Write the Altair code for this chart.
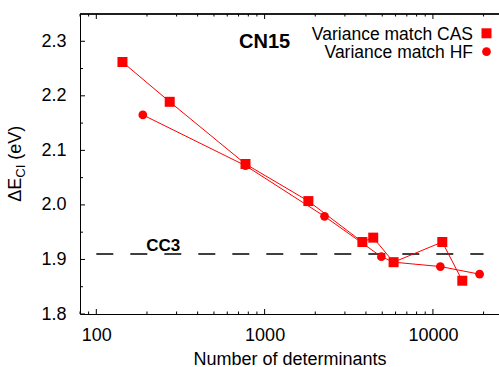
import altair as alt
import pandas as pd

# ---- data ----
CAS_N = [143, 273, 770, 1820, 3810, 4420, 5840, 11370, 14950]
CAS_E = [2.262, 2.189, 2.075, 2.007, 1.932, 1.940, 1.895, 1.932, 1.861]
HF_N = [189, 770, 2270, 4940, 5840, 11070, 18940]
HF_E = [2.165, 2.072, 1.979, 1.905, 1.895, 1.887, 1.873]
CC3_E = 1.91
CC3_FROM, CC3_TO = 100, 20000
X_LABELS = [100, 1000, 10000]
X_MINOR = [80, 90] + [k * 10 ** p for p in (2, 3) for k in range(2, 10)] + [20000]
Y_LABELS = [1.8, 1.9, 2.0, 2.1, 2.2, 2.3]
Y_MINOR = [1.85, 1.95, 2.05, 2.15, 2.25]
SERIES = ["Variance match CAS", "Variance match HF"]
MOLECULE = "CN15"
REF_LABEL = "CC3"

W, H = 419, 300
FONT = "Liberation Sans"
RED = "#ff0000"

cas = pd.DataFrame({"n": CAS_N, "e": CAS_E, "i": list(range(len(CAS_N)))})
hf = pd.DataFrame({"n": HF_N, "e": HF_E, "i": list(range(len(HF_N)))})
cc3 = pd.DataFrame({"n": [CC3_FROM], "n2": [CC3_TO], "e": [CC3_E]})
xmaj = pd.DataFrame({"n": X_LABELS})
xmin = pd.DataFrame({"n": X_MINOR})
ymaj = pd.DataFrame({"e": Y_LABELS})
ymin = pd.DataFrame({"e": Y_MINOR})

xs = alt.Scale(type="log", domain=[80, 24700], nice=False)
ys = alt.Scale(domain=[1.8, 2.35], nice=False, zero=False)

xaxis = alt.Axis(values=X_LABELS, format="d", ticks=False, grid=False,
                 labelFont=FONT, labelFontSize=18, labelColor="black",
                 labelPadding=12, domainColor="black", domainWidth=1,
                 title="Number of determinants", titleFont=FONT,
                 titleFontSize=18, titleFontWeight="normal", titleColor="black",
                 titlePadding=6, labelFlush=False)
yaxis = alt.Axis(values=Y_LABELS, format=".1f", ticks=False, grid=False,
                 labelFont=FONT, labelFontSize=18, labelColor="black",
                 labelPadding=14, domainColor="black", domainWidth=1,
                 title=None, labelFlush=False)

X = alt.X("n:Q", scale=xs, axis=xaxis)
Y = alt.Y("e:Q", scale=ys, axis=yaxis)

cas_line = alt.Chart(cas).mark_line(color=RED, strokeWidth=1).encode(
    x=X, y=Y, order="i:Q")
hf_line = alt.Chart(hf).mark_line(color=RED, strokeWidth=1).encode(
    x=X, y=Y, order="i:Q")
cas_pts = alt.Chart(cas).mark_point(shape="square", filled=True, color=RED,
                                    size=100, opacity=1).encode(x=X, y=Y)
hf_pts = alt.Chart(hf).mark_point(shape="circle", filled=True, color=RED,
                                  size=76, opacity=1).encode(x=X, y=Y)

cc3_rule = alt.Chart(cc3).mark_rule(color="black", strokeWidth=1.5,
                                    strokeDash=[17, 17]).encode(
    x=X, x2="n2:Q", y=Y)
cc3_text = alt.Chart(pd.DataFrame({"n": [250], "e": [1.9155], "t": [REF_LABEL]})).mark_text(
    font=FONT, fontSize=17, fontWeight="bold", align="center",
    baseline="alphabetic", color="black").encode(x=X, y=Y, text="t:N")
mol_text = alt.Chart(pd.DataFrame({"n": [1000], "e": [2.287], "t": [MOLECULE]})).mark_text(
    font=FONT, fontSize=20, fontWeight="bold", align="center",
    baseline="alphabetic", color="black").encode(x=X, y=Y, text="t:N")

# inward ticks (bottom, top, left)
tick_style = dict(color="black", strokeWidth=1)
xt_bot_maj = alt.Chart(xmaj).mark_rule(**tick_style).encode(
    x=X, y=alt.value(H), y2=alt.value(H - 5))
xt_bot_min = alt.Chart(xmin).mark_rule(**tick_style).encode(
    x=X, y=alt.value(H), y2=alt.value(H - 2.5))
xt_top_maj = alt.Chart(xmaj).mark_rule(**tick_style).encode(
    x=X, y=alt.value(0), y2=alt.value(5))
xt_top_min = alt.Chart(xmin).mark_rule(**tick_style).encode(
    x=X, y=alt.value(0), y2=alt.value(2.5))
yt_maj = alt.Chart(ymaj).mark_rule(**tick_style).encode(
    y=Y, x=alt.value(0), x2=alt.value(5))
yt_min = alt.Chart(ymin).mark_rule(**tick_style).encode(
    y=Y, x=alt.value(0), x2=alt.value(3))
top_border = alt.Chart(xmaj).mark_rule(color="black", strokeWidth=1).encode(
    x=alt.value(0), x2=alt.value(W), y=alt.value(0))

# legend (inside, top-right, gnuplot style: label then symbol)
leg = pd.DataFrame({"t": SERIES})
leg_cas_t = alt.Chart(leg.iloc[[0]]).mark_text(
    font=FONT, fontSize=17.5, align="right", baseline="alphabetic",
    color="black").encode(x=alt.value(393), y=alt.value(25.5), text="t:N")
leg_hf_t = alt.Chart(leg.iloc[[1]]).mark_text(
    font=FONT, fontSize=17.5, align="right", baseline="alphabetic",
    color="black").encode(x=alt.value(393), y=alt.value(44), text="t:N")
leg_cas_p = alt.Chart(leg.iloc[[0]]).mark_point(
    shape="square", filled=True, color=RED, size=100, opacity=1).encode(
    x=alt.value(406.5), y=alt.value(19.3))
leg_hf_p = alt.Chart(leg.iloc[[1]]).mark_point(
    shape="circle", filled=True, color=RED, size=76, opacity=1).encode(
    x=alt.value(406.5), y=alt.value(37.7))

# rotated y title: ΔE with subscript CI, then (eV)
ytitle = pd.DataFrame({"a": ["ΔE"], "b": ["CI"], "c": ["(eV)"]})
yt_a = alt.Chart(ytitle).mark_text(
    font=FONT, fontSize=18, angle=270, align="left", baseline="alphabetic",
    color="black").encode(x=alt.value(-59), y=alt.value(187.7), text="a:N")
yt_b = alt.Chart(ytitle).mark_text(
    font=FONT, fontSize=13, angle=270, align="left", baseline="alphabetic",
    color="black").encode(x=alt.value(-55), y=alt.value(163.7), text="b:N")
yt_c = alt.Chart(ytitle).mark_text(
    font=FONT, fontSize=18, angle=270, align="left", baseline="alphabetic",
    color="black").encode(x=alt.value(-59), y=alt.value(145.7), text="c:N")

chart = alt.layer(
    cc3_rule, cas_line, hf_line, cas_pts, hf_pts,
    xt_bot_maj, xt_bot_min, xt_top_maj, xt_top_min, yt_maj, yt_min, top_border,
    cc3_text, mol_text,
    leg_cas_t, leg_hf_t, leg_cas_p, leg_hf_p,
    yt_a, yt_b, yt_c,
).properties(
    width=W, height=H,
    autosize=alt.AutoSizeParams(type="none"),
    padding={"left": 80, "top": 14, "right": 0, "bottom": 53},
    background="white",
).configure_view(stroke=None)

chart.save("out.html", embed_options={"renderer": "svg", "actions": False})
